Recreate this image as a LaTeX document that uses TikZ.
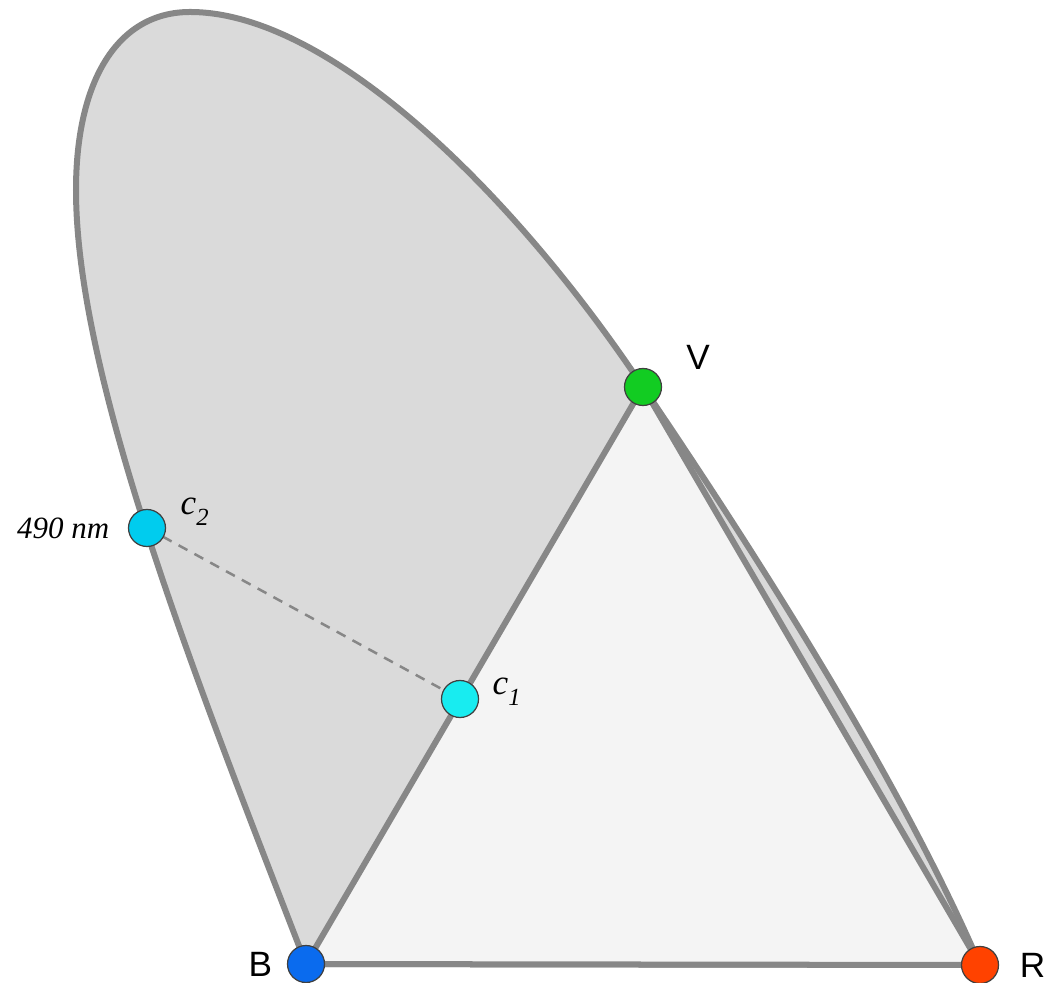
\documentclass[tikz,border=0pt]{standalone}
\usepackage{fontspec}
\setmainfont{Liberation Serif}
\setsansfont{Liberation Sans}
\usetikzlibrary{positioning}

\begin{document}
\begin{tikzpicture}[x=0.01cm, y=-0.01cm,
  borda/.style={draw=contorno, line width=0.06cm, line join=round},
  ponto/.style={circle, draw=black!75, line width=0.35pt, minimum size=0.37cm, inner sep=0pt},
  rotulo/.style={font=\fontsize{10}{12}\selectfont\sffamily, inner sep=0pt},
  rotuloit/.style={font=\fontsize{10}{12}\selectfont\itshape, inner sep=0pt}]
% --- CORES ---
\definecolor{contorno}{HTML}{878787}
\definecolor{ferradura}{HTML}{DADADA}
\definecolor{triangulo}{HTML}{F4F4F4}
\definecolor{azul}{HTML}{0A6BEE}
\definecolor{verde}{HTML}{12CC22}
\definecolor{vermelho}{HTML}{FF4200}
\definecolor{ciano}{HTML}{00CCEE}
\definecolor{cianoclaro}{HTML}{18ECF0}

\useasboundingbox (0,0) rectangle (1052,983);

% LAYER 0: Pontos base
\coordinate (pB) at (306,964);
\coordinate (pV) at (643,387);
\coordinate (pR) at (980,965);
\coordinate (pC2) at (147,528);
\coordinate (pC1) at (460,699);

% LAYER 1: Ferradura (lugar espectral)
\draw[borda, fill=ferradura] (pB) .. controls (200,690) and (76,380) .. (76,190)
  .. controls (76,80) and (118,12) .. (190,12)
  .. controls (330,12) and (515,195) .. (pV)
  .. controls (760,560) and (900,780) .. (pR) -- cycle;

% LAYER 2: Triangulo
\draw[borda, fill=triangulo] (pB) -- (pV) -- (pR) -- cycle;

% LAYER 3: Linha tracejada
\draw[contorno, line width=0.025cm, dash pattern=on 0.1cm off 0.08cm] (pC2) -- (pC1);

% LAYER 4: Pontos coloridos
\node[ponto, fill=azul] (B) at (pB) {};
\node[ponto, fill=verde] (V) at (pV) {};
\node[ponto, fill=vermelho] (R) at (pR) {};
\node[ponto, fill=ciano] (c2) at (pC2) {};
\node[ponto, fill=cianoclaro] (c1) at (pC1) {};

% LAYER 5: Rotulos
\node[rotulo, left=0.14cm of B] (labB) {B};
\node[rotulo, right=0.2cm of R] (labR) {R};
\node[rotulo] (labV) at (698,357) {V};
\node[rotuloit, font=\fontsize{8.8}{10}\selectfont\itshape, left=0.18cm of c2] (lab490) {490 nm};
\node[rotuloit, anchor=west] (labc2) at (180,512) {c\textsubscript{\raisebox{-0.5ex}{2}}};
\node[rotuloit, anchor=west] (labc1) at (492,692) {c\textsubscript{\raisebox{-0.5ex}{1}}};
\end{tikzpicture}
\end{document}
